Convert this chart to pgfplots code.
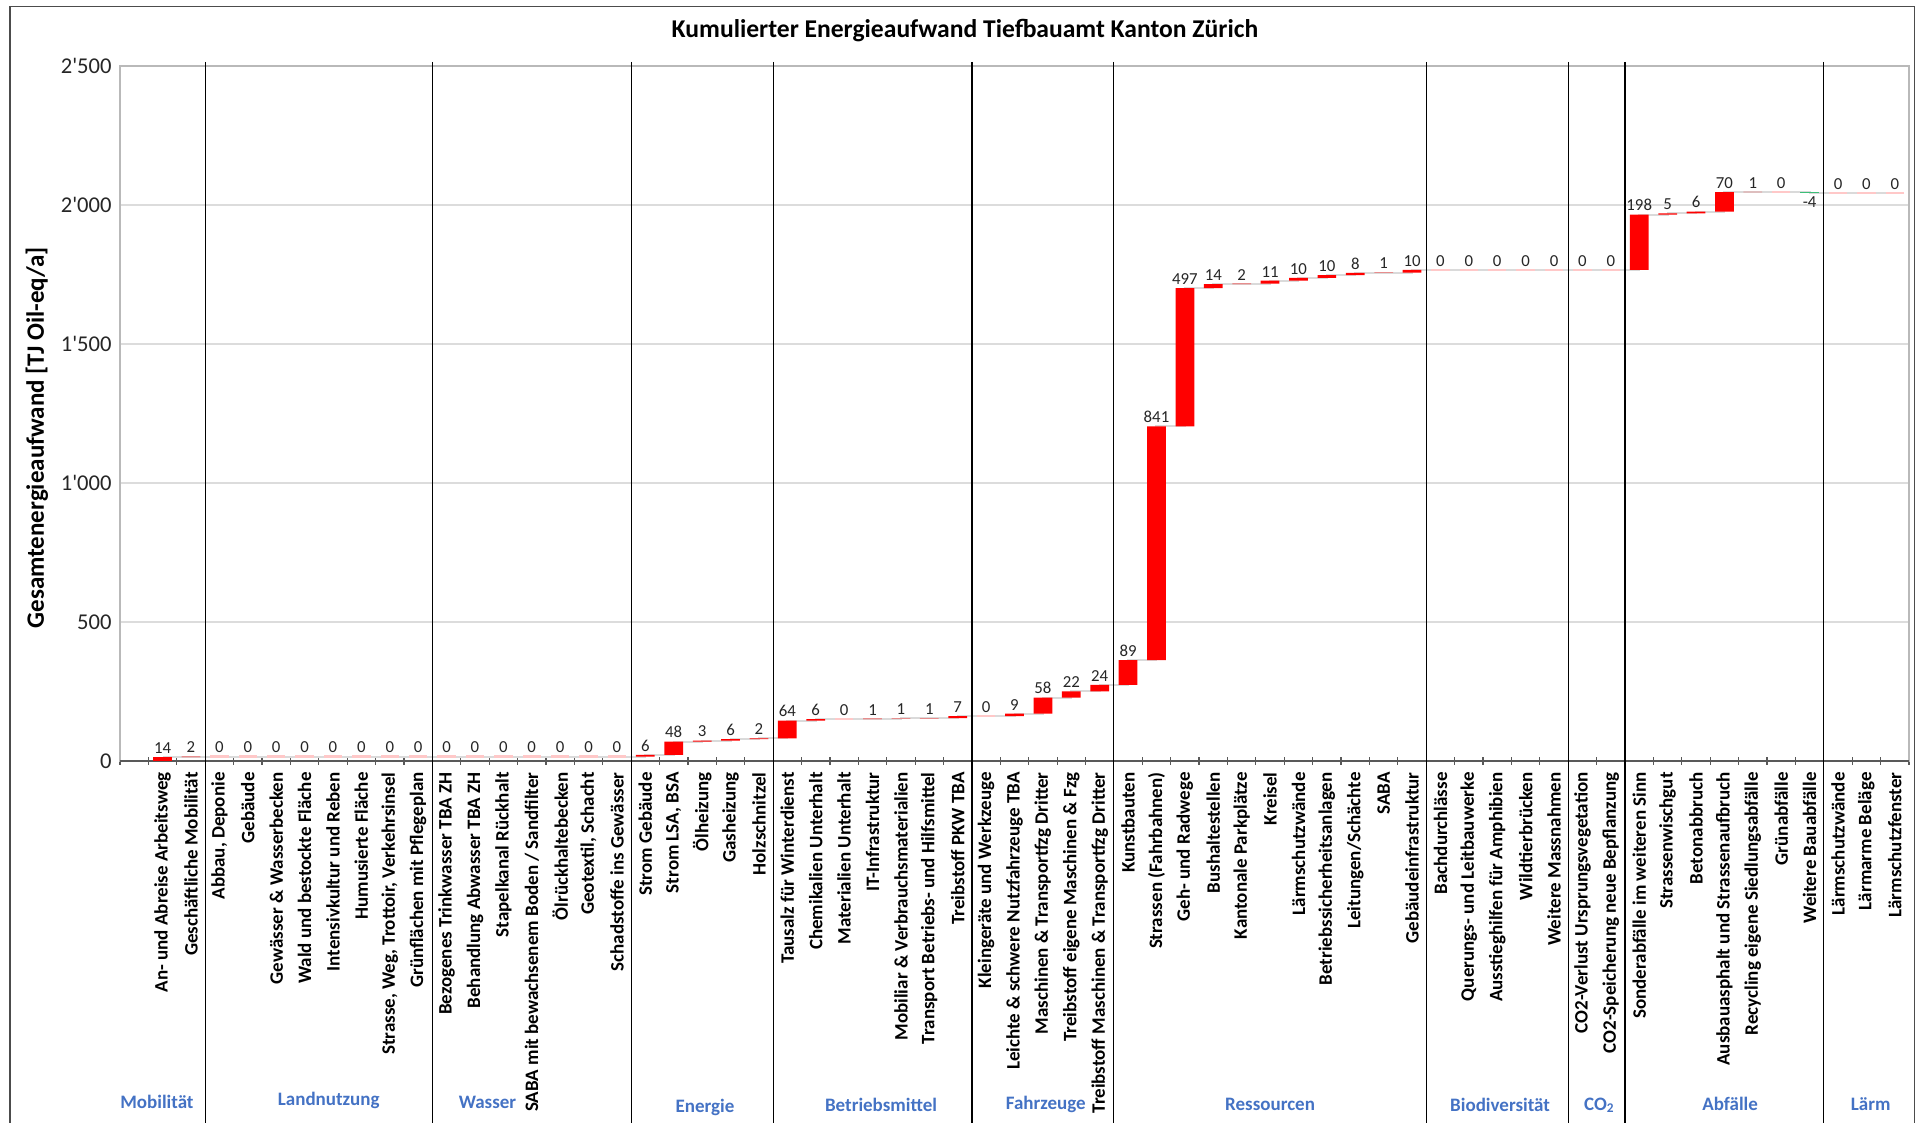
\documentclass[border=0pt]{standalone}
\usepackage{pgfplots}
\pgfplotsset{compat=1.18}
\usepackage{pgfplotstable}
\usepackage{fontspec}
\setmainfont{Carlito}

\definecolor{barred}{HTML}{FF0000}
\definecolor{bargreen}{HTML}{3DBE78}
\definecolor{zeropink}{HTML}{FFC8C8}
\definecolor{linkgray}{HTML}{DADADA}
\definecolor{gridgray}{HTML}{DCDCDC}
\definecolor{groupblue}{HTML}{4472C4}
\definecolor{labelgray}{HTML}{262626}

% x: position, d: contribution, base/pos/neg: stacked bar parts,
% end: cumulative total after the item, z: level of items without contribution
\pgfplotstableread{
x  d    base pos neg end  z
1  14   0    14  0   14   nan
2  2    14   2   0   16   nan
3  0    16   0   0   16   16
4  0    16   0   0   16   16
5  0    16   0   0   16   16
6  0    16   0   0   16   16
7  0    16   0   0   16   16
8  0    16   0   0   16   16
9  0    16   0   0   16   16
10 0    16   0   0   16   16
11 0    16   0   0   16   16
12 0    16   0   0   16   16
13 0    16   0   0   16   16
14 0    16   0   0   16   16
15 0    16   0   0   16   16
16 0    16   0   0   16   16
17 0    16   0   0   16   16
18 6    16   6   0   22   nan
19 48   22   48  0   70   nan
20 3    70   3   0   73   nan
21 6    73   6   0   79   nan
22 2    79   2   0   81   nan
23 64   81   64  0   145  nan
24 6    145  6   0   151  nan
25 0    151  0   0   151  151
26 1    151  1   0   152  nan
27 1    152  1   0   153  nan
28 1    153  1   0   154  nan
29 7    154  7   0   161  nan
30 0    161  0   0   161  161
31 9    161  9   0   170  nan
32 58   170  58  0   228  nan
33 22   228  22  0   250  nan
34 24   250  24  0   274  nan
35 89   274  89  0   363  nan
36 841  363  841 0   1204 nan
37 497  1204 497 0   1701 nan
38 14   1701 14  0   1715 nan
39 2    1715 2   0   1717 nan
40 11   1717 11  0   1728 nan
41 10   1728 10  0   1738 nan
42 10   1738 10  0   1748 nan
43 8    1748 8   0   1756 nan
44 1    1756 1   0   1757 nan
45 10   1757 10  0   1767 nan
46 0    1767 0   0   1767 1767
47 0    1767 0   0   1767 1767
48 0    1767 0   0   1767 1767
49 0    1767 0   0   1767 1767
50 0    1767 0   0   1767 1767
51 0    1767 0   0   1767 1767
52 0    1767 0   0   1767 1767
53 198  1767 198 0   1965 nan
54 5    1965 5   0   1970 nan
55 6    1970 6   0   1976 nan
56 70   1976 70  0   2046 nan
57 1    2046 1   0   2047 nan
58 0    2047 0   0   2047 2047
59 -4   2043 0   4   2043 nan
60 0    2043 0   0   2043 2043
61 0    2043 0   0   2043 2043
62 0    2043 0   0   2043 2043
}\energy

\pgfplotsset{
  frame/.style={
    at={(60pt,181pt)}, anchor=south west,
    scale only axis, width=894.5pt, height=347.5pt,
    xmin=-0.5, xmax=62.5, ymin=0, ymax=2500,
    clip=false,
  },
}

\begin{document}
\begin{tikzpicture}
\useasboundingbox (0pt,0pt) rectangle (958pt,561.5pt);

\begin{axis}[
  frame,
  title={Kumulierter Energieaufwand Tiefbauamt Kanton Zürich},
  every axis title/.style={at={(axis description cs:0.4723,1.0511)}, anchor=center,
    font=\bfseries\fontsize{12.8}{15}\selectfont},
  ylabel={Gesamtenergieaufwand [TJ Oil-eq/a]},
  every axis y label/.style={at={(axis description cs:-0.0464,0.465)},
    rotate=90, anchor=center, font=\bfseries\fontsize{12.5}{15}\selectfont},
  axis line style={draw=gray!55, line width=0.8pt},
  ytick={0,500,1000,1500,2000,2500},
  yticklabels={0,500,1\textquotesingle000,1\textquotesingle500,2\textquotesingle000,2\textquotesingle500},
  ytick style={draw=none},
  yticklabel style={font=\fontsize{11.3}{13}\selectfont, text=labelgray, anchor=east, inner sep=0pt},
  yticklabel shift=4pt,
  ymajorgrids, major grid style={draw=gridgray, line width=0.6pt},
  xtick={1,...,62},
  minor xtick={-0.5,0.5,...,62.5},
  xtick pos=bottom,
  major tick length=0pt, minor tick length=4pt, tick align=center,
  xtick style={draw=gray!70!black, line width=0.6pt},
  xticklabel style={rotate=90, anchor=east, inner sep=0pt,
    font=\bfseries\fontsize{9.5}{11}\selectfont},
  xticklabel shift=5.5pt,
  xticklabels={
    {An- und Abreise Arbeitsweg},{Geschäftliche Mobilität},
    {Abbau, Deponie},{Gebäude},{Gewässer \& Wasserbecken},{Wald und bestockte Fläche},
    {Intensivkultur und Reben},{Humusierte Fläche},{Strasse, Weg, Trottoir, Verkehrsinsel},
    {Grünflächen mit Pflegeplan},
    {Bezogenes Trinkwasser TBA ZH},{Behandlung Abwasser TBA ZH},{Stapelkanal Rückhalt},
    {SABA mit bewachsenem Boden / Sandfilter},{Ölrückhaltebecken},{Geotextil, Schacht},
    {Schadstoffe ins Gewässer},
    {Strom Gebäude},{Strom LSA, BSA},{Ölheizung},{Gasheizung},{Holzschnitzel},
    {Tausalz für Winterdienst},{Chemikalien Unterhalt},{Materialien Unterhalt},
    {IT-Infrastruktur},{Mobiliar \& Verbrauchsmaterialien},
    {Transport Betriebs- und Hilfsmittel},{Treibstoff PKW TBA},
    {Kleingeräte und Werkzeuge},{Leichte \& schwere Nutzfahrzeuge TBA},
    {Maschinen \& Transportfzg Dritter},{Treibstoff eigene Maschinen \& Fzg},
    {Treibstoff Maschinen \& Transportfzg Dritter},
    {Kunstbauten},{Strassen (Fahrbahnen)},{Geh- und Radwege},{Bushaltestellen},
    {Kantonale Parkplätze},{Kreisel},{Lärmschutzwände},{Betriebssicherheitsanlagen},
    {Leitungen/Schächte},{SABA},{Gebäudeinfrastruktur},
    {Bachdurchlässe},{Querungs- und Leitbauwerke},{Ausstieghilfen für Amphibien},
    {Wildtierbrücken},{Weitere Massnahmen},
    {CO2-Verlust Ursprungsvegetation},{CO2-Speicherung neue Bepflanzung},
    {Sonderabfälle im weiteren Sinn},{Strassenwischgut},{Betonabbruch},
    {Ausbauasphalt und Strassenaufbruch},{Recycling eigene Siedlungsabfälle},
    {Grünabfälle},{Weitere Bauabfälle},
    {Lärmschutzwände},{Lärmarme Beläge},{Lärmschutzfenster}},
]
% connector line along the running total
\addplot[const plot, draw=linkgray, line width=1pt, mark=none] table[x=x, y=end] {\energy};
% items without contribution
\addplot[only marks, mark=-, mark size=4.6pt,
  mark options={draw=zeropink, line width=1.1pt}] table[x=x, y=z] {\energy};
% value labels
\addplot[draw=none, mark=none, nodes near coords, point meta=explicit symbolic,
  skip coords between index={58}{59},
  every node near coord/.style={font=\fontsize{8.4}{9}\selectfont, text=labelgray,
    anchor=south, inner sep=1pt, yshift=0.6pt}]
  table[x=x, y=end, meta=d] {\energy};
\addplot[draw=none, mark=none, nodes near coords, point meta=explicit symbolic,
  every node near coord/.style={font=\fontsize{8.4}{9}\selectfont, text=labelgray,
    anchor=north, inner sep=1pt, yshift=-0.6pt}]
  coordinates {(59,2043) [-4]};

% darker category axis
\draw[gray!70!black, line width=1.2pt] (axis cs:-0.5,0) -- (axis cs:62.5,0);

% group separators
\pgfplotsinvokeforeach{2.5,10.5,17.5,22.5,29.5,34.5,45.5,50.5,52.5,59.5}{
  \draw[black, line width=0.6pt] (axis cs:#1,2515) -- (axis cs:#1,-1400);
}

% group names
\begin{scope}[every node/.style={text=groupblue, font=\bfseries\fontsize{9.5}{11}\selectfont, anchor=center}]
\node at (axis cs:0.8,-1227)   {Mobilität};
\node at (axis cs:6.85,-1220)  {Landnutzung};
\node at (axis cs:12.44,-1227) {Wasser};
\node at (axis cs:20.1,-1245)  {Energie};
\node at (axis cs:26.3,-1238)  {Betriebsmittel};
\node at (axis cs:32.1,-1234)  {Fahrzeuge};
\node at (axis cs:40,-1234)    {Ressourcen};
\node at (axis cs:48.1,-1238)  {Biodiversität};
\node at (axis cs:51.6,-1238)  {CO\textsubscript{2}};
\node at (axis cs:56.2,-1234)  {Abfälle};
\node at (axis cs:61.15,-1234) {Lärm};
\end{scope}
\end{axis}

% waterfall bars
\begin{axis}[
  frame, hide axis,
  ybar stacked, bar width=0.66,
]
\addplot[draw=none, fill=none] table[x=x, y=base] {\energy};
\addplot[draw=none, fill=barred] table[x=x, y=pos] {\energy};
\addplot[draw=none, fill=bargreen] table[x=x, y=neg] {\energy};
\end{axis}

% outer frame
\draw[gray!60!black, line width=0.6pt] (5pt,-20pt) rectangle (957.3pt,558.3pt);
\end{tikzpicture}
\end{document}
